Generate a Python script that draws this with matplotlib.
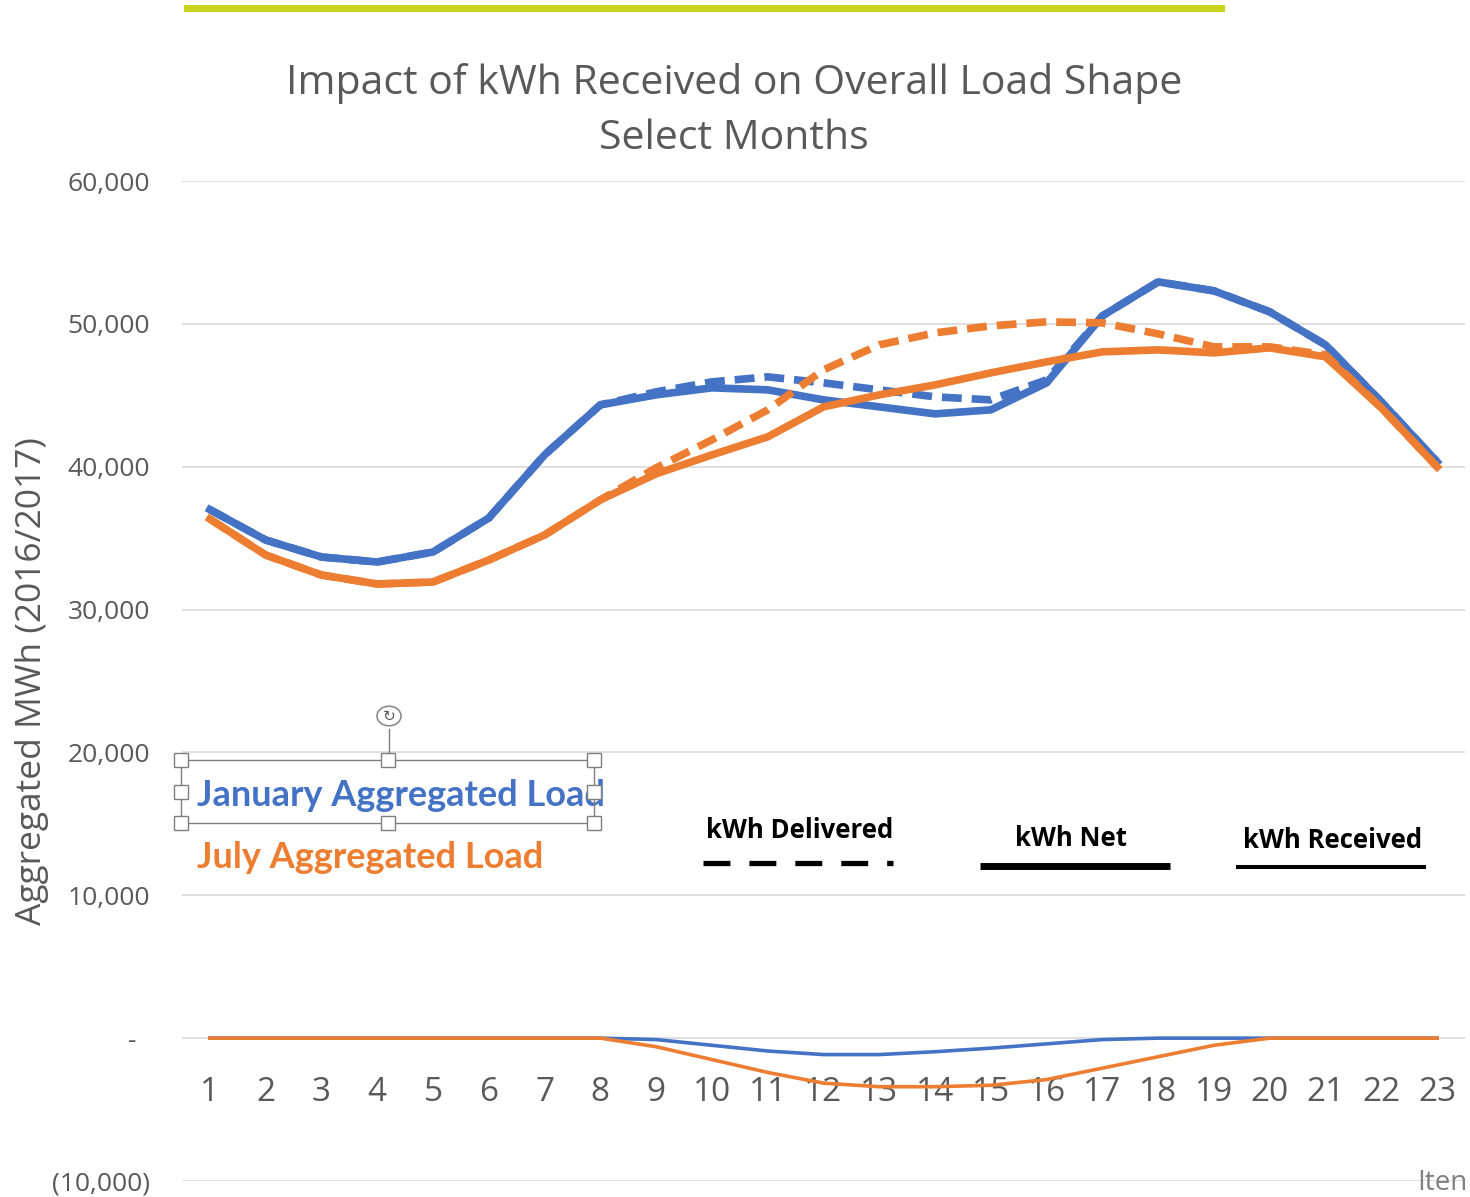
import matplotlib
matplotlib.use("Agg")
import matplotlib.pyplot as plt
from matplotlib import font_manager
from matplotlib.lines import Line2D
from matplotlib.patches import Rectangle, Circle
from matplotlib.ticker import FuncFormatter

names = {f.name for f in font_manager.fontManager.ttflist}
NARROW = 'Liberation Sans Narrow' if 'Liberation Sans Narrow' in names else 'Open Sans'
BOLD = 'Lato' if 'Lato' in names else 'DejaVu Sans'

hours = list(range(1, 24))
jan_delivered = [37000, 34870, 33680, 33330, 34030, 36410, 40830, 44330, 45240, 45940,
                 46290, 45870, 45380, 44890, 44680, 46080, 50560, 52940, 52310, 50840,
                 48530, 44540, 40340]
jan_net = [37000, 34870, 33680, 33330, 34030, 36410, 40830, 44330, 45030, 45520,
           45380, 44680, 44190, 43700, 43980, 45870, 50560, 52940, 52310, 50840,
           48530, 44540, 40340]
jan_received = [0, 0, 0, 0, 0, 0, 0, 0, -100, -500, -900, -1150, -1150, -950, -700,
                -400, -100, 0, 0, 0, 0, 0, 0]
jul_delivered = [36340, 33820, 32420, 31790, 31930, 33470, 35220, 37680, 39920, 41880,
                 43980, 46780, 48530, 49370, 49860, 50140, 50070, 49300, 48390, 48390,
                 47830, 44120, 39990]
jul_net = [36340, 33820, 32420, 31790, 31930, 33470, 35220, 37680, 39500, 40830,
           42090, 44190, 45030, 45730, 46570, 47340, 48040, 48180, 47970, 48320,
           47690, 44120, 39990]
jul_received = [0, 0, 0, 0, 0, 0, 0, 0, -600, -1500, -2400, -3150, -3400, -3400, -3300,
                -2900, -2100, -1300, -500, 0, 0, 0, 0]
yticks = [-10000, 0, 10000, 20000, 30000, 40000, 50000, 60000]

BLUE = '#4472C4'
ORANGE = '#ED7D31'
GRAY = '#595959'

W, H = 1470, 1197
fig = plt.figure(figsize=(W / 100, H / 100), dpi=100)
fig.patch.set_facecolor('white')


def fx(px):
    return px / W


def fy(py):
    return 1 - py / H


ax = fig.add_axes([fx(182), fy(1181), fx(1465) - fx(182), fy(181) - fy(1181)])
ax.set_xlim(0.5, 23.5)
ax.set_ylim(-10000, 60000)
ax.set_yticks(yticks)
ax.set_xticks(hours)
for s in ax.spines.values():
    s.set_visible(False)
ax.grid(axis='y', color='#d9d9d9', lw=1.2)
ax.set_axisbelow(True)


def yfmt(v, pos):
    if v == 0:
        return '-  '
    if v < 0:
        return '({:,.0f})'.format(-v)
    return '{:,.0f}'.format(v)


ax.yaxis.set_major_formatter(FuncFormatter(yfmt))
ax.tick_params(axis='y', length=0, pad=23, labelsize=19, labelcolor=GRAY)
ax.spines['bottom'].set_position(('data', 0))
ax.tick_params(axis='x', length=0, pad=27, labelsize=24, labelcolor=GRAY)
for lab in ax.get_xticklabels() + ax.get_yticklabels():
    lab.set_fontfamily(NARROW)

dash = (2.6, 1.3)
ax.plot(hours, jan_delivered, color=BLUE, lw=5.5, ls=(0, dash), zorder=3)
ax.plot(hours, jan_net, color=BLUE, lw=5.5, zorder=3)
ax.plot(hours, jan_received, color=BLUE, lw=2.6, zorder=3)
ax.plot(hours, jul_delivered, color=ORANGE, lw=5.5, ls=(0, dash), zorder=4)
ax.plot(hours, jul_net, color=ORANGE, lw=5.5, zorder=4)
ax.plot(hours, jul_received, color=ORANGE, lw=2.6, zorder=4)

# Y axis title
fig.text(fx(32), 0.5 * (fy(181) + fy(1181)), 'Aggregated MWh (2016/2017)', rotation=90,
         ha='center', va='center', fontsize=25.5, color=GRAY, family=NARROW)

# Title
fig.text(fx(734), fy(84), 'Impact of kWh Received on Overall Load Shape', ha='center', va='center',
         fontsize=29.5, color=GRAY, family=NARROW)
fig.text(fx(734), fy(139), 'Select Months', ha='center', va='center',
         fontsize=29.5, color=GRAY, family=NARROW)

# Green bar
fig.add_artist(Rectangle((fx(184), fy(12)), fx(1225) - fx(184), fy(5) - fy(12),
                         transform=fig.transFigure, color='#c9d31b', lw=0))

# Bottom-right partial axis title
fig.text(fx(1468), fy(1183), 'Iten', ha='right', va='center', fontsize=20, color='#7f7f7f', family=NARROW)

# Series name labels
fig.text(fx(197), fy(796), 'January Aggregated Load', ha='left', va='center', fontsize=26,
         color=BLUE, fontweight='bold', family=BOLD)
fig.text(fx(197), fy(858), 'July Aggregated Load', ha='left', va='center', fontsize=26,
         color=ORANGE, fontweight='bold', family=BOLD)

# Selection box with handles
bx0, bx1, by0, by1 = 181, 594, 760, 823
fig.add_artist(Rectangle((fx(bx0), fy(by1)), fx(bx1) - fx(bx0), fy(by0) - fy(by1),
                         transform=fig.transFigure, fill=False, ec='#7f7f7f', lw=1.0, zorder=5))
fig.add_artist(Line2D([fx(389), fx(389)], [fy(729), fy(760)], transform=fig.transFigure,
                      color='#7f7f7f', lw=1.0, zorder=5))
fig.add_artist(Circle((fx(389), fy(716)), 12 / W, transform=fig.transFigure,
                      fc='white', ec='#8c8c8c', lw=1.2, zorder=6))
fig.text(fx(389), fy(716), '↻', ha='center', va='center', fontsize=11, color='#595959', zorder=7)
hs = 14
for hx, hy in [(bx0, by0), (388, by0), (bx1, by0), (bx0, 792), (bx1, 792),
               (bx0, by1), (388, by1), (bx1, by1)]:
    fig.add_artist(Rectangle((fx(hx - hs / 2), fy(hy + hs / 2)), hs / W, hs / H,
                             transform=fig.transFigure, fc='white', ec='#7f7f7f', lw=1.0, zorder=6))

# Line style legend
fig.text(fx(800), fy(830), 'kWh Delivered', ha='center', va='center', fontsize=18.5,
         fontweight='bold', color='black', family=NARROW)
fig.add_artist(Line2D([fx(703), fx(893)], [fy(863), fy(863)], transform=fig.transFigure,
                      color='black', lw=3.8, ls=(0, (5.1, 3.6)), dash_capstyle='butt'))
fig.text(fx(1071), fy(839), 'kWh Net', ha='center', va='center', fontsize=18.5,
         fontweight='bold', color='black', family=NARROW)
fig.add_artist(Line2D([fx(980), fx(1170)], [fy(866), fy(866)], transform=fig.transFigure,
                      color='black', lw=5, solid_capstyle='butt'))
fig.text(fx(1333), fy(841), 'kWh Received', ha='center', va='center', fontsize=18.5,
         fontweight='bold', color='black', family=NARROW)
fig.add_artist(Line2D([fx(1236), fx(1426)], [fy(867), fy(867)], transform=fig.transFigure,
                      color='black', lw=2.9, solid_capstyle='butt'))

fig.savefig('out.png', dpi=100, facecolor='white')
